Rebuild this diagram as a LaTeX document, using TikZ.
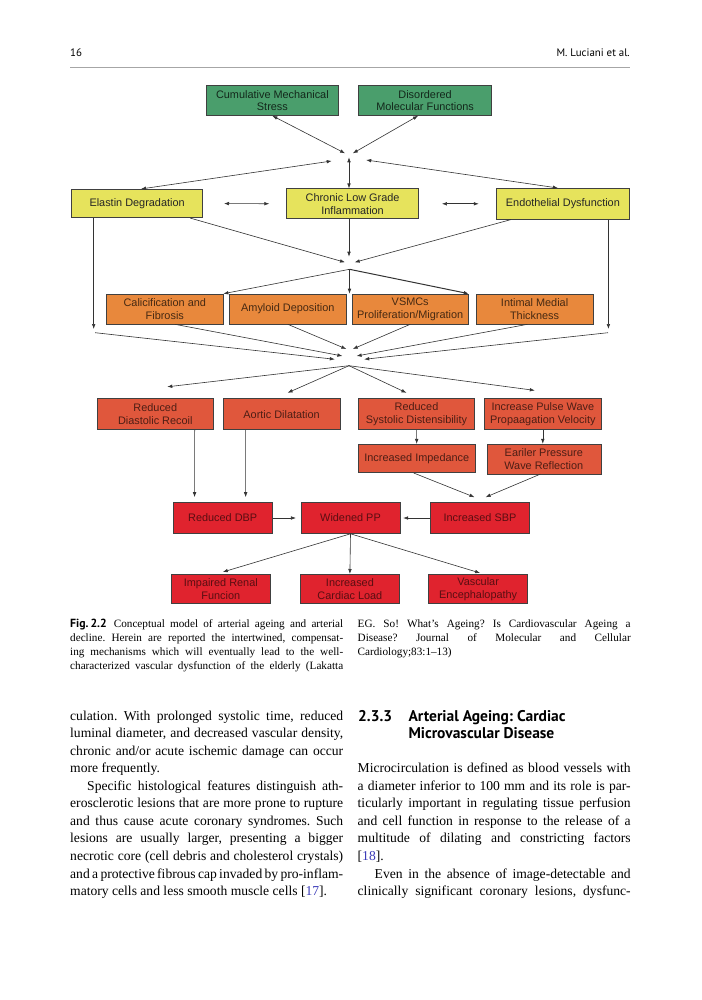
\documentclass[tikz,border=0pt]{standalone}
\usepackage{fontspec}
\setmainfont{Liberation Serif}
\newfontfamily\diagfont{Liberation Sans}
\newfontfamily\headfont{PT Sans}
\usepackage{xcolor}
\usetikzlibrary{arrows.meta}

\definecolor{boxgreen}{HTML}{4A9E6C}
\definecolor{boxyellow}{HTML}{E6E35C}
\definecolor{boxorange}{HTML}{E8883C}
\definecolor{boxred}{HTML}{E0573C}
\definecolor{boxcrimson}{HTML}{E0232E}
\definecolor{citeblue}{HTML}{3A3AB8}

\newcommand\jrow[1]{\hbox to\hsize{#1}}
\newcommand\erow[1]{\hbox{#1}}
\frenchspacing

\begin{document}
\begin{tikzpicture}[x=1pt, y=-1pt,
  block/.style={draw=black!75, line width=0.6pt, align=center, inner sep=1pt,
    font={\diagfont\fontsize{10.9}{12.7}\selectfont}},
  greenbox/.style={block, fill=boxgreen, text=boxgreen!25!black, minimum height=30pt},
  yellowbox/.style={block, fill=boxyellow, text=black!85, minimum height=30pt},
  orangebox/.style={block, fill=boxorange, text=boxorange!30!black, minimum width=116.5pt, minimum height=30pt},
  redbox/.style={block, fill=boxred, text=boxred!35!black, minimum width=116.5pt, minimum height=31pt},
  crimsonbox/.style={block, fill=boxcrimson, text=boxcrimson!40!black, minimum width=99.3pt, minimum height=30pt},
  arrow/.style={-{Latex[length=5pt,width=3.6pt]}, line width=0.6pt, draw=black!80},
  dbl/.style={{Latex[length=5pt,width=3.6pt]}-{Latex[length=5pt,width=3.6pt]}, line width=0.6pt, draw=black!80}
]
\fill[white] (0,0) rectangle (701,1000);
\useasboundingbox (0,0) rectangle (701,1000);

% running head
\node[anchor=base west, inner sep=0, font={\headfont\fontsize{10.9}{13}\selectfont}] (pagenum) at (70,57) {16};
\node[anchor=base east, inner sep=0, font={\headfont\fontsize{10.9}{13}\selectfont}] (runhead) at (630,57) {M. Luciani et al.};
\draw[gray!70, line width=1pt] (70,68) -- (630,68);

% top causes
\node[greenbox, minimum width=131.6pt] (stress) at (272.4,100.5) {Cumulative Mechanical\\Stress};
\node[greenbox, minimum width=133pt] (molecular) at (425.1,100.5) {Disordered\\Molecular Functions};

\node[yellowbox, minimum width=131.2pt, minimum height=28.5pt] (elastin) at (137.1,203.5) {Elastin Degradation};
\node[yellowbox, minimum width=132pt] (inflam) at (352.6,203.8) {Chronic Low Grade\\Inflammation};
\node[yellowbox, minimum width=132.3pt, minimum height=31pt] (endoth) at (562.9,203.8) {Endothelial Dysfunction};

% hub points
\coordinate (h1a) at (345.1,153.3);
\coordinate (h1b) at (352.8,153.3);
\coordinate (h1c) at (349,157.3);
\coordinate (h1d) at (331.7,161);
\coordinate (h1e) at (366.2,160);
\coordinate (h2a) at (345,262.3);
\coordinate (h2b) at (354.7,262.3);
\coordinate (h2c) at (349,256.7);
\coordinate (h2o) at (349.5,269.3);
\coordinate (lv) at (93.7,329);
\coordinate (rv) at (608.4,329);
\coordinate (lw) at (95.2,332.7);
\coordinate (rw) at (608,332.7);
\coordinate (h3a) at (334.8,359.3);
\coordinate (h3b) at (342.4,356);
\coordinate (h3c) at (346.3,349);
\coordinate (h3d) at (352.8,349);
\coordinate (h3e) at (356.6,356);
\coordinate (h3f) at (364.2,359.3);
\coordinate (h3o) at (349,365.7);

% vessel wall changes
\node[orangebox] (calcif) at (164.8,309) {Calicification and\\Fibrosis};
\node[orangebox] (amyloid) at (287.8,309) {Amyloid Deposition};
\node[orangebox] (vsmc) at (410.2,309) {VSMCs\\Proliferation/Migration};
\node[orangebox] (intimal) at (534.6,309) {Intimal Medial\\Thickness};

% haemodynamic changes
\node[redbox] (recoil) at (155.3,414.2) {Reduced\\Diastolic Recoil};
\node[redbox] (dilat) at (281.6,414.2) {Aortic Dilatation};
\node[redbox] (disten) at (416.5,414.2) {Reduced\\Systolic Distensibility};
\node[redbox] (pwv) at (542.8,414.2) {Increase Pulse Wave\\Propaagation Velocity};
\node[redbox, minimum height=28.5pt] (imped) at (416.8,458.5) {Increased Impedance};
\node[redbox, minimum width=114pt, minimum height=29.7pt] (reflect) at (543.8,459) {Eariler Pressure\\Wave Reflection};

\node[crimsonbox, minimum height=31pt] (dbp) at (222.7,518) {Reduced DBP};
\node[crimsonbox, minimum height=31pt] (pp) at (350.5,518) {Widened PP};
\node[crimsonbox, minimum height=31pt] (sbp) at (480,518) {Increased SBP};

\node[crimsonbox, minimum height=29.4pt] (renal) at (220.8,589) {Impaired Renal\\Funcion};
\node[crimsonbox, minimum height=29.4pt] (cardiac) at (349.9,589) {Increased\\Cardiac Load};
\node[crimsonbox, minimum height=29.4pt] (enceph) at (478.1,589) {Vascular\\Encephalopathy};

% connectors, first level
\draw[dbl] (stress.south) -- (h1a);
\draw[dbl] ([xshift=-7pt]molecular.south) -- (h1b);
\draw[dbl] (h1c) -- (h1c |- inflam.north);
\draw[dbl] (h1d) -- ([xshift=4pt]elastin.north);
\draw[dbl] (h1e) -- ([xshift=-5pt]endoth.north);
\draw[dbl, shorten <=21pt, shorten >=17pt] (elastin.east) -- (inflam.west);
\draw[dbl, shorten <=23pt, shorten >=17.7pt] (inflam.east) -- (endoth.west);

% connectors, second level
\draw[arrow] ([xshift=53pt]elastin.south) -- (h2a);
\draw[arrow] ([xshift=-52pt]endoth.south) -- (h2b);
\draw[arrow] (inflam.south -| h2c) -- (h2c);
\draw[arrow] (elastin.south -| lv) -- (lv);
\draw[arrow] (endoth.south -| rv) -- (rv);
\draw[arrow] (h2o) -- (calcif.north east);
\draw[arrow] (h2o) -- (h2o |- amyloid.north);
\draw[arrow, line width=1pt] (h2o) -- (vsmc.north east);

% connectors, third level
\draw[arrow] (lw) -- (h3a);
\draw[arrow] ([xshift=10pt]calcif.south) -- (h3b);
\draw[arrow] (amyloid.south) -- (h3c);
\draw[arrow] (vsmc.south) -- (h3d);
\draw[arrow] ([xshift=-7pt]intimal.south) -- (h3e);
\draw[arrow] (rw) -- (h3f);
\draw[arrow] (h3o) -- ([xshift=12pt,yshift=11.6pt]recoil.north);
\draw[arrow] (h3o) -- ([xshift=6pt,yshift=5.6pt]dilat.north);
\draw[arrow] (h3o) -- ([xshift=-10pt,yshift=5.6pt]disten.north);
\draw[arrow] (h3o) -- ([xshift=-8pt,yshift=8pt]pwv.north);

% connectors, pressure
\draw[arrow] (disten) -- (imped);
\draw[arrow] (pwv.south) -- (pwv.south |- reflect.north);
\draw[arrow] ([xshift=39.4pt]recoil.south) -- ([xshift=21.8pt,yshift=5pt]dbp.north west);
\draw[arrow] ([xshift=-36pt]dilat.south) -- ([xshift=72.9pt,yshift=5pt]dbp.north west);
\draw[arrow] ([xshift=-3pt]imped.south) -- ([xshift=-5.5pt,yshift=5pt]sbp.north);
\draw[arrow] ([xshift=-3.5pt]reflect.south) -- ([xshift=5.6pt,yshift=5pt]sbp.north);
\draw[arrow, shorten >=4.6pt] (dbp.east) -- (pp.west);
\draw[arrow, shorten >=2.7pt] (sbp.west) -- (pp.east);
\draw[arrow] (pp.south) -- ([xshift=2pt,yshift=2pt]renal.north);
\draw[arrow] (pp.south) -- (cardiac.north);
\draw[arrow] (pp.south) -- ([xshift=2pt,yshift=1pt]enceph.north);

% caption
\node[anchor=base west, inner sep=0] (capleft) at (70,627.5) {\vtop{\hsize=273pt
  \fontsize{11.2}{13.9}\selectfont
  \jrow{{\headfont\bfseries\fontsize{11.8}{13.9}\selectfont Fig.\,2.2}\hskip 7pt Conceptual model of arterial ageing and arterial}
  \jrow{decline. Herein are reported the intertwined, compensat-}
  \jrow{ing mechanisms which will eventually lead to the well-}
  \jrow{characterized vascular dysfunction of the elderly (Lakatta}}};
\node[anchor=base west, inner sep=0] (capright) at (357.5,627.5) {\vtop{\hsize=273pt
  \fontsize{11.2}{13.9}\selectfont
  \jrow{EG. So! What's Ageing? Is Cardiovascular Ageing a}
  \jrow{Disease? Journal of Molecular and Cellular}
  \erow{Cardiology;83:1--13)}}};

% body text
\node[anchor=base west, inner sep=0] (bodyleft) at (70,720) {\vtop{\hsize=273pt
  \fontsize{13.6}{17.56}\selectfont
  \jrow{culation. With prolonged systolic time, reduced}
  \jrow{luminal diameter, and decreased vascular density,}
  \jrow{chronic and/or acute ischemic damage can occur}
  \erow{more frequently.}
  \jrow{\hskip17pt Specific histological features distinguish ath-}
  \jrow{erosclerotic lesions that are more prone to rupture}
  \jrow{and thus cause acute coronary syndromes. Such}
  \jrow{lesions are usually larger, presenting a bigger}
  \jrow{necrotic core (cell debris and cholesterol crystals)}
  \jrow{and a protective fibrous cap invaded by pro-inflam-}
  \erow{matory cells and less smooth muscle cells [\textcolor{citeblue}{17}].}}};

\node[anchor=base west, inner sep=0, font={\headfont\bfseries\fontsize{15.5}{17.5}\selectfont}] (secnum) at (358,721) {2.3.3};
\node[anchor=base west, inner sep=0] (sectitle) at (408.3,721) {\vtop{\headfont\bfseries\fontsize{15.5}{17.5}\selectfont
  \erow{Arterial Ageing: Cardiac}
  \erow{Microvascular Disease}}};

\node[anchor=base west, inner sep=0] (bodyright) at (357.5,772.7) {\vtop{\hsize=273pt
  \fontsize{13.6}{17.56}\selectfont
  \jrow{Microcirculation is defined as blood vessels with}
  \jrow{a diameter inferior to 100 mm and its role is par-}
  \jrow{ticularly important in regulating tissue perfusion}
  \jrow{and cell function in response to the release of a}
  \jrow{multitude of dilating and constricting factors}
  \erow{[\textcolor{citeblue}{18}].}
  \jrow{\hskip17pt Even in the absence of image-detectable and}
  \jrow{clinically significant coronary lesions, dysfunc-}}};

\end{tikzpicture}
\end{document}
